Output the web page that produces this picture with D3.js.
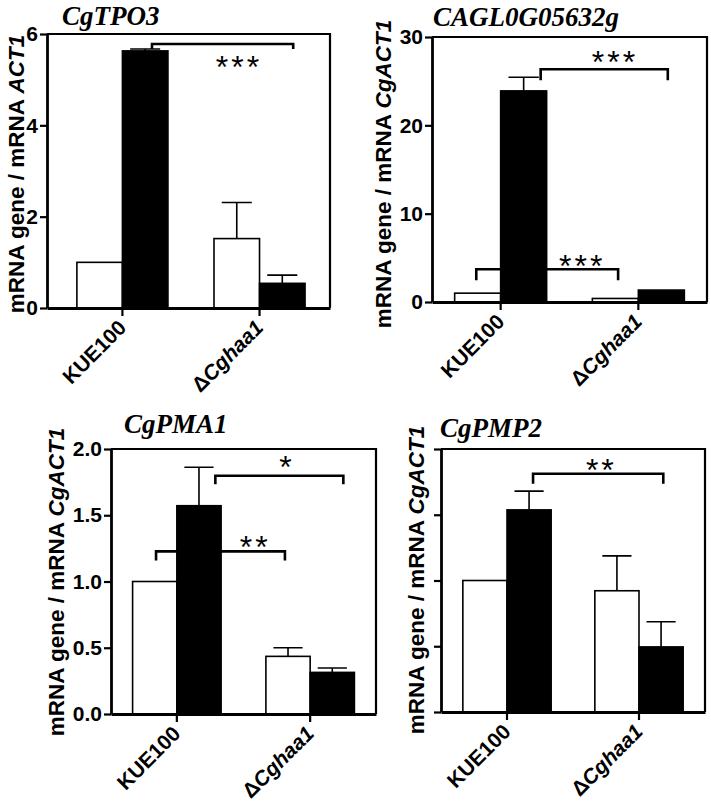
<!DOCTYPE html>
<html><head><meta charset="utf-8">
<script src="https://cdn.jsdelivr.net/npm/d3@7"></script>
<style>body{margin:0;background:#fff}svg{display:block}</style>
</head><body><svg id="c" width="711" height="802"></svg>
<script>
// ---------- data ----------
const categories = ["KUE100", "ΔCghaa1"];
const seriesNames = ["open", "filled"];
const genes = ["CgTPO3", "CAGL0G05632g", "CgPMA1", "CgPMP2"];
const refGenes = ["ACT1", "CgACT1", "CgACT1", "CgACT1"];

const tpo3Open = [1.0, 1.52], tpo3OpenErr = [0, 0.79];
const tpo3Filled = [5.63, 0.54], tpo3FilledErr = [0.04, 0.18];
const caglOpen = [1.0, 0.4], caglOpenErr = [0, 0];
const caglFilled = [23.9, 1.35], caglFilledErr = [1.55, 0];
const pma1Open = [1.0, 0.435], pma1OpenErr = [0, 0.065];
const pma1Filled = [1.572, 0.314], pma1FilledErr = [0.29, 0.033];
const pmp2Open = [1.0, 0.922], pmp2OpenErr = [0, 0.265];
const pmp2Filled = [1.537, 0.495], pmp2FilledErr = [0.143, 0.191];

const tpo3Ticks = [0, 2, 4, 6];
const caglTicks = [0, 10, 20, 30];
const pma1Ticks = [0, 0.5, 1.0, 1.5, 2.0];
const pmp2Ticks = [0, 0.5, 1.0, 1.5, 2.0];

// significance brackets: [category, series] ends, bracket level (data units), label
const tpo3Sig = [{a: [0, 1], b: [1, 1], level: 5.78, label: "***"}];
const caglSig = [{a: [0, 1], b: [1, 1], level: 26.35, label: "***"},
                 {a: [0, 0], b: [1, 0], level: 3.70, label: "***"}];
const pma1Sig = [{a: [0, 1], b: [1, 1], level: 1.798, label: "*"},
                 {a: [0, 0], b: [1, 0], level: 1.227, label: "**"}];
const pmp2Sig = [{a: [0, 1], b: [1, 1], level: 1.812, label: "**"}];

// ---------- layout ----------
const panels = [
  {gene: genes[0], ref: refGenes[0], open: tpo3Open, openErr: tpo3OpenErr, filled: tpo3Filled, filledErr: tpo3FilledErr,
   ticks: tpo3Ticks, fmt: d3.format("d"), labels: true, max: 6, sig: tpo3Sig,
   box: {l: 47, r: 330, t: 34, b: 308}, band: {pi: 0.336, po: 0.2, align: 0.545},
   title: {x: 62, y: 25}, ylab: {x: 24, y: 174},
   sigGeo: [{fa: 0.65, fb: 0.74, leg: 5, lf: 0.605, ly: 5.45}]},
  {gene: genes[1], ref: refGenes[1], open: caglOpen, openErr: caglOpenErr, filled: caglFilled, filledErr: caglFilledErr,
   ticks: caglTicks, fmt: d3.format("d"), labels: true, max: 30, sig: caglSig,
   box: {l: 432, r: 707, t: 37, b: 302}, band: {pi: 0.332, po: 0.1645, align: 0.5},
   title: {x: 433, y: 26}, ylab: {x: 391, y: 174},
   sigGeo: [{fa: 0.87, fb: 0.64, leg: 11, lf: 0.573, ly: 27.97},
            {fa: 0.47, fb: 0.56, leg: 11, lf: 0.736, ly: 4.95}]},
  {gene: genes[2], ref: refGenes[2], open: pma1Open, openErr: pma1OpenErr, filled: pma1Filled, filledErr: pma1FilledErr,
   ticks: pma1Ticks, fmt: d3.format(".1f"), labels: true, max: 2, sig: pma1Sig,
   box: {l: 111, r: 376, t: 449, b: 714}, band: {pi: 0.336, po: 0.162, align: 0.5},
   title: {x: 124, y: 433}, ylab: {x: 64, y: 582},
   sigGeo: [{fa: 0.87, fb: 0.75, leg: 8.5, lf: 0.547, ly: 1.919},
            {fa: 0.53, fb: 0.43, leg: 9, lf: 0.758, ly: 1.315}]},
  {gene: genes[3], ref: refGenes[3], open: pmp2Open, openErr: pmp2OpenErr, filled: pmp2Filled, filledErr: pmp2FilledErr,
   ticks: pmp2Ticks, fmt: d3.format(".1f"), labels: false, max: 2, sig: pmp2Sig,
   box: {l: 441, r: 705, t: 449, b: 712}, band: {pi: 0.331, po: 0.1655, align: 0.5},
   title: {x: 440, y: 437}, ylab: {x: 424, y: 580},
   sigGeo: [{fa: 0.59, fb: 0.55, leg: 10, lf: 0.513, ly: 1.896}]}
];

const SANS = "'Liberation Sans', Arial, sans-serif";
const SERIF = "'Liberation Serif', 'Times New Roman', serif";
const svg = d3.select("#c");

panels.forEach(p => {
  const g = svg.append("g");
  const x = d3.scaleBand().domain(categories).range([p.box.l, p.box.r])
    .paddingInner(p.band.pi).paddingOuter(p.band.po).align(p.band.align);
  const xs = d3.scaleBand().domain(seriesNames).range([0, x.bandwidth()]);
  const y = d3.scaleLinear().domain([0, p.max]).range([p.box.b, p.box.t]);

  const rows = [];
  categories.forEach((c, i) => {
    rows.push({c, s: seriesNames[0], v: p.open[i], e: p.openErr[i]});
    rows.push({c, s: seriesNames[1], v: p.filled[i], e: p.filledErr[i]});
  });

  // brackets
  p.sig.forEach((s, k) => {
    const geo = p.sigGeo[k];
    const xa = x(categories[s.a[0]]) + xs(seriesNames[s.a[1]]) + geo.fa * xs.bandwidth();
    const xb = x(categories[s.b[0]]) + xs(seriesNames[s.b[1]]) + geo.fb * xs.bandwidth();
    const yl = y(s.level);
    g.append("path")
      .attr("d", `M${xa},${yl + geo.leg}V${yl}H${xb}V${yl + geo.leg}`)
      .attr("fill", "none").attr("stroke", "#000").attr("stroke-width", 2.6);
    const fs = 32, ls = 3;
    g.append("text")
      .attr("x", xa + geo.lf * (xb - xa) + ls / 2)
      .attr("y", y(geo.ly) + fs * 0.58)
      .attr("text-anchor", "middle")
      .attr("font-family", SANS).attr("font-size", fs).attr("letter-spacing", ls)
      .text(s.label);
  });

  // bars
  g.selectAll("rect.bar").data(rows).join("rect")
    .attr("class", "bar")
    .attr("x", d => x(d.c) + xs(d.s))
    .attr("width", xs.bandwidth())
    .attr("y", d => y(d.v))
    .attr("height", d => y(0) - y(d.v))
    .attr("fill", d => d.s === seriesNames[0] ? "#fff" : "#000")
    .attr("stroke", "#000").attr("stroke-width", 1.6);

  // error bars
  const eb = rows.filter(d => d.e > 0);
  const capW = xs.bandwidth() * 0.66;
  g.selectAll("path.err").data(eb).join("path")
    .attr("class", "err")
    .attr("d", d => {
      const cx = x(d.c) + xs(d.s) + xs.bandwidth() / 2;
      return `M${cx},${y(d.v)}V${y(d.v + d.e)}M${cx - capW / 2},${y(d.v + d.e)}H${cx + capW / 2}`;
    })
    .attr("fill", "none").attr("stroke", "#000").attr("stroke-width", 1.6);

  // frame (top + right)
  g.append("path")
    .attr("d", `M${p.box.l},${p.box.t}H${p.box.r}V${p.box.b}`)
    .attr("fill", "none").attr("stroke", "#000").attr("stroke-width", 2.2);

  // y axis
  const ya = d3.axisLeft(y).tickValues(p.ticks).tickSize(7).tickSizeOuter(0).tickPadding(2)
    .tickFormat(p.labels ? p.fmt : () => "");
  const yg = g.append("g").attr("transform", `translate(${p.box.l},0)`).call(ya);
  yg.select(".domain").attr("stroke-width", 2.8);
  yg.selectAll(".tick line").attr("stroke-width", 2.2);
  yg.selectAll(".tick text").attr("font-family", SANS).attr("font-weight", "bold")
    .attr("font-size", 21).attr("fill", "#000");

  // x axis
  const xa = d3.axisBottom(x).tickSize(8).tickSizeOuter(0).tickFormat(() => "");
  const xg = g.append("g").attr("transform", `translate(0,${p.box.b})`).call(xa);
  xg.select(".domain").attr("stroke-width", 2.8);
  xg.selectAll(".tick line").attr("stroke-width", 2.2);
  xg.selectAll(".tick text").remove();

  // x labels rotated
  categories.forEach(c => {
    const t = g.append("text")
      .attr("transform", `translate(${x(c) + x.bandwidth() / 2 + 5},${p.box.b + 21}) rotate(-45)`)
      .attr("text-anchor", "end")
      .attr("font-family", SANS).attr("font-weight", "bold").attr("font-size", 21);
    if (c.startsWith("Δ")) {
      t.append("tspan").text("Δ");
      t.append("tspan").attr("font-style", "italic").text(c.slice(1));
    } else t.text(c);
  });

  // y label
  const yl = g.append("text")
    .attr("transform", `translate(${p.ylab.x},${p.ylab.y}) rotate(-90)`)
    .attr("text-anchor", "middle")
    .attr("font-family", SANS).attr("font-weight", "bold").attr("font-size", 22.5);
  yl.append("tspan").text("mRNA gene / mRNA ");
  yl.append("tspan").attr("font-style", "italic").text(p.ref);

  // title
  g.append("text")
    .attr("x", p.title.x).attr("y", p.title.y)
    .attr("font-family", SERIF).attr("font-weight", "bold").attr("font-style", "italic")
    .attr("font-size", 27).text(p.gene);
});
</script></body></html>
